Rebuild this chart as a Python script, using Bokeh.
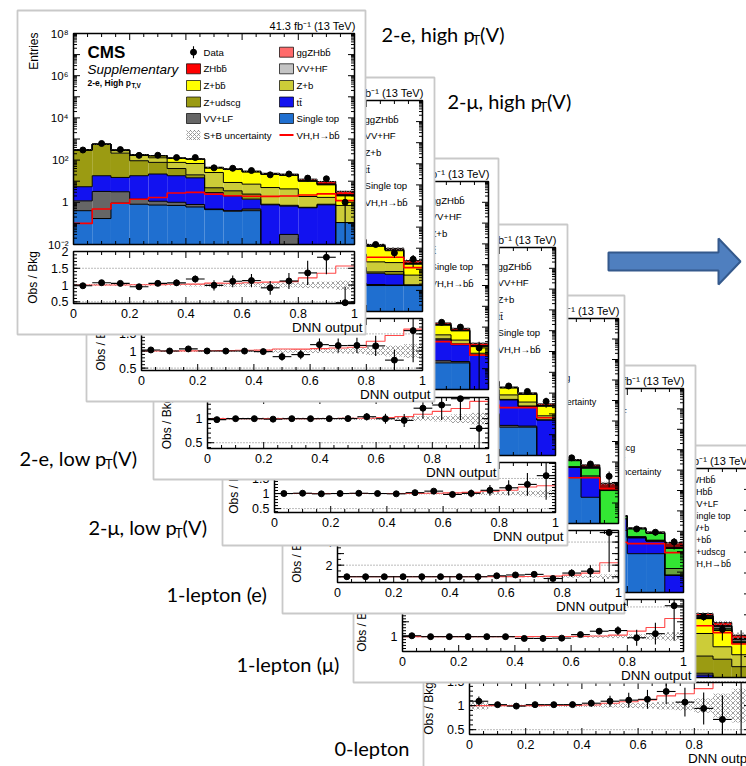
import math
import numpy as np
from bokeh.plotting import figure
from bokeh.models import Range1d
from bokeh.core.properties import value
from bokeh.embed import file_html
from bokeh.resources import INLINE

# ---------------------------------------------------------------------------
# Binning of the DNN output (15 equal bins between 0 and 1)
# ---------------------------------------------------------------------------
N_BINS = 15
BIN_EDGES = np.linspace(0.0, 1.0, N_BINS + 1)

# ---------------------------------------------------------------------------
# 2-e, high pT(V)
# ---------------------------------------------------------------------------
E2H_DATA = [301, 612, 315, 168, 170, 132, 132, 43, 41, 32, 20, 22, 14, 13, 1]
E2H_SINGLE_TOP = [0.40, 0.17, 0.91, 0.81, 0.74, 0.71, 0.60, 0.45, 0.38, 0.40, 0, 0, 0, 0, 0.11]
E2H_VV_LF = [0.77, 3.1, 2.25, 0.60, 0.38, 0.29, 0.19, 0.03, 0.02, 0.08, 0, 0.03, 0, 0, 0]
E2H_TTBAR = [4.3, 14.9, 11.9, 16.8, 20.8, 17.2, 13.7, 2.4, 1.6, 0.93, 0.76, 0.63, 0.55, 0.76, 0]
E2H_Z_UDSCG = [290, 532, 199, 75, 56, 21.6, 5.5, 2.0, 1.5, 1.04, 0.05, 0.06, 0.03, 0.05, 0]
E2H_Z_B = [7, 12, 68, 73, 51, 38, 49, 21, 5.2, 4.8, 4.2, 3.6, 1.3, 0.9, 0.6]
E2H_Z_BB = [3, 6, 13, 8, 29, 43, 41, 16, 27, 20, 16, 14.5, 8.0, 5.0, 1.3]
E2H_VV_HF = [2, 4, 5, 3, 4, 3, 2, 1.5, 1.2, 1.0, 0.8, 0.8, 0.4, 0.4, 0.1]
E2H_GGZH = [0.01, 0.03, 0.05, 0.08, 0.1, 0.15, 0.15, 0.15, 0.15, 0.15, 0.2, 0.2, 0.3, 0.3, 0.2]
E2H_ZH = [0.1, 0.45, 0.85, 1.3, 1.6, 2.6, 2.8, 2.3, 1.9, 1.8, 1.7, 1.8, 1.9, 2.2, 1.0]
E2H_VH = [0.1, 0.48, 0.9, 1.4, 1.7, 2.75, 2.95, 2.45, 2.05, 1.95, 1.9, 2.0, 2.2, 2.5, 1.2]
E2H_UNC = [0.03, 0.03, 0.03, 0.03, 0.03, 0.03, 0.04, 0.05, 0.05, 0.06, 0.07, 0.07, 0.09, 0.10, 0.14]

# ---------------------------------------------------------------------------
# 2-mu, high pT(V)
# ---------------------------------------------------------------------------
M2H_DATA = [415, 741, 414, 229, 207, 160, 141, 47, 43, 43, 32, 27, 15, 6, 3]
M2H_SINGLE_TOP = [0.5, 0.3, 1.1, 1.0, 0.9, 0.9, 0.7, 0.6, 0.5, 0.4, 0.3, 0.2, 0.17, 0.17, 0.17]
M2H_VV_LF = [1.0, 3.5, 2.6, 0.8, 0.5, 0.4, 0.3, 0.1, 0.05, 0.05, 0.03, 0.02, 0.02, 0.01, 0]
M2H_TTBAR = [5.5, 18, 15, 20, 25, 21, 16, 3.0, 2.0, 1.2, 0.9, 0.7, 0.46, 0.4, 0.01]
M2H_Z_UDSCG = [380, 690, 260, 98, 72, 28, 7, 2.6, 1.9, 1.3, 0.4, 0.3, 0.1, 0.2, 0]
M2H_Z_B = [9, 16, 88, 95, 66, 50, 64, 27, 7, 6, 5, 4, 1.5, 1.3, 0.35]
M2H_Z_BB = [4, 8, 17, 10, 38, 56, 53, 21, 35, 26, 20, 17, 10, 5.5, 1.2]
M2H_VV_HF = [2.6, 5, 6.5, 4, 5, 4, 2.6, 2, 1.6, 1.3, 1, 1, 0.8, 0.6, 0.15]
M2H_GGZH = [0.01, 0.04, 0.06, 0.1, 0.13, 0.2, 0.2, 0.2, 0.2, 0.2, 0.25, 0.25, 0.3, 0.3, 0.1]
M2H_ZH = [0.13, 0.6, 1.1, 1.7, 2.1, 3.4, 3.6, 3.0, 2.5, 2.3, 2.2, 2.3, 1.7, 1.3, 0.6]
M2H_VH = [0.14, 0.64, 1.16, 1.8, 2.2, 3.6, 3.8, 3.2, 2.7, 2.5, 2.45, 2.55, 3.7, 3.7, 1.2]
M2H_UNC = [0.03, 0.03, 0.03, 0.03, 0.03, 0.03, 0.04, 0.05, 0.05, 0.06, 0.07, 0.08, 0.12, 0.16, 0.2]

# ---------------------------------------------------------------------------
# 2-e, low pT(V)
# ---------------------------------------------------------------------------
E2L_DATA = [10020, 8635, 5442, 3290, 1926, 1084, 599, 326, 185, 95, 51, 33, 17, 10, 1]
E2L_SINGLE_TOP = [20, 25, 22, 18, 15, 12, 9, 6, 4, 2.5, 1.5, 0.8, 0.19, 0.19, 0.003]
E2L_VV_LF = [15, 20, 15, 10, 6, 4, 2.5, 1.5, 0.8, 0.4, 0.2, 0.1, 0.05, 0.03, 0]
E2L_TTBAR = [300, 420, 380, 300, 220, 150, 90, 50, 28, 15, 8, 4, 2.2, 1.2, 0.45]
E2L_Z_UDSCG = [9000, 7000, 4000, 2200, 1100, 500, 220, 90, 35, 12, 4, 1.2, 0.3, 0.15, 0]
E2L_Z_B = [700, 900, 750, 550, 380, 250, 150, 85, 45, 22, 11, 4.5, 1.5, 0.8, 0.1]
E2L_Z_BB = [150, 220, 230, 210, 180, 150, 115, 85, 60, 40, 26, 15, 8, 4.2, 0.6]
E2L_VV_HF = [40, 50, 45, 35, 25, 18, 12, 8, 5, 3.2, 2.2, 1.5, 1.0, 0.5, 0.1]
E2L_GGZH = [0.02, 0.03, 0.04, 0.05, 0.05, 0.05, 0.05, 0.05, 0.05, 0.05, 0.05, 0.05, 0.05, 0.04, 0.02]
E2L_ZH = [0.5, 0.8, 1.0, 1.2, 1.3, 1.4, 1.5, 1.6, 1.7, 1.9, 2.1, 2.3, 2.5, 1.6, 0.4]
E2L_VH = [0.5, 0.8, 1.0, 1.2, 1.4, 1.5, 1.6, 1.7, 1.8, 2.0, 2.2, 2.5, 2.0, 1.5, 0.45]
E2L_UNC = [0.02, 0.02, 0.02, 0.02, 0.02, 0.02, 0.02, 0.03, 0.03, 0.03, 0.04, 0.05, 0.06, 0.09, 0.12]

# ---------------------------------------------------------------------------
# 2-mu, low pT(V)
# ---------------------------------------------------------------------------
M2L_DATA = [12480, 10580, 6460, 3946, 2300, 1301, 711, 400, 232, 111, 64, 38, 22, 12, 4]
M2L_SINGLE_TOP = [25, 30, 27, 22, 18, 14, 10, 7, 5, 3, 1.8, 0.9, 0.23, 0.23, 0]
M2L_VV_LF = [18, 24, 18, 12, 7, 5, 3, 1.8, 1.0, 0.5, 0.25, 0.12, 0.05, 0.03, 0]
M2L_TTBAR = [360, 500, 450, 360, 260, 180, 110, 60, 34, 18, 10, 6, 4.4, 2.0, 0.51]
M2L_Z_UDSCG = [11000, 8500, 4800, 2600, 1300, 600, 260, 110, 42, 14, 5, 1.5, 0.3, 0.15, 0]
M2L_Z_B = [850, 1100, 900, 660, 450, 300, 180, 100, 55, 27, 13, 6, 3.2, 1.3, 0.3]
M2L_Z_BB = [180, 260, 280, 250, 215, 180, 140, 100, 72, 48, 31, 18, 9.3, 5.0, 1.5]
M2L_VV_HF = [48, 60, 54, 42, 30, 22, 15, 10, 6, 4, 2.6, 1.8, 1.0, 0.5, 0.2]
M2L_GGZH = [0.02, 0.03, 0.05, 0.06, 0.06, 0.06, 0.06, 0.06, 0.06, 0.06, 0.06, 0.06, 0.06, 0.05, 0.02]
M2L_ZH = [0.6, 0.9, 1.2, 1.4, 1.5, 1.6, 1.8, 1.9, 2.0, 2.2, 2.4, 2.6, 1.1, 1.0, 0.5]
M2L_VH = [0.6, 0.9, 1.2, 1.4, 1.5, 1.7, 1.9, 2.0, 2.1, 2.3, 2.5, 2.7, 2.0, 2.0, 0.65]
M2L_UNC = [0.02, 0.02, 0.02, 0.02, 0.02, 0.02, 0.02, 0.03, 0.03, 0.03, 0.04, 0.05, 0.06, 0.09, 0.12]

# ---------------------------------------------------------------------------
# 1-lepton (e)
# ---------------------------------------------------------------------------
E1L_DATA = [6400, 8740, 7560, 5740, 3970, 2560, 1570, 882, 521, 288, 139, 39, 16, 8, 2]
E1L_SINGLE_TOP = [400, 700, 800, 700, 550, 400, 270, 170, 100, 55, 25, 9, 1.75, 0.19, 0]
E1L_TTBAR = [3000, 5200, 5000, 4000, 2800, 1800, 1100, 600, 320, 160, 70, 25, 3.65, 1.55, 0.005]
E1L_VV_LF = [30, 40, 30, 20, 12, 7, 4, 2, 1, 0.5, 0.2, 0.1, 0.05, 0.02, 0]
E1L_W_UDSCG = [2500, 2200, 1200, 600, 300, 140, 60, 25, 10, 4, 1.5, 0.5, 0.1, 0.05, 0]
E1L_W_B = [300, 350, 280, 200, 130, 80, 45, 25, 13, 6, 3, 1.3, 0.4, 0.3, 0]
E1L_W_BB = [150, 220, 230, 200, 160, 120, 85, 55, 35, 22, 14, 9, 5.6, 2.8, 0.4]
E1L_VV_HF = [20, 28, 25, 20, 15, 11, 8, 5, 3.5, 2.5, 1.8, 1.2, 0.6, 0.5, 0.01]
E1L_ZH = [0.1, 0.2, 0.3, 0.3, 0.3, 0.3, 0.3, 0.3, 0.3, 0.3, 0.3, 0.3, 0.2, 0.5, 0.05]
E1L_WH = [0.5, 1.0, 1.5, 1.8, 2.0, 2.2, 2.3, 2.3, 2.3, 2.3, 2.2, 2.1, 0.6, 1.3, 0.45]
E1L_VH = [0.6, 1.2, 1.8, 2.1, 2.3, 2.5, 2.6, 2.6, 2.6, 2.6, 2.5, 2.4, 1.7, 1.7, 0.5]
E1L_UNC = [0.02, 0.02, 0.02, 0.02, 0.02, 0.02, 0.02, 0.02, 0.03, 0.04, 0.05, 0.06, 0.08, 0.1, 0.2]

# ---------------------------------------------------------------------------
# 1-lepton (mu)
# ---------------------------------------------------------------------------
M1L_DATA = [7910, 10400, 9046, 6888, 4802, 3111, 1750, 991, 546, 317, 165, 67, 13, 9, 3]
M1L_SINGLE_TOP = [480, 840, 960, 840, 660, 480, 320, 200, 120, 65, 30, 11, 0.8, 0.8, 0]
M1L_TTBAR = [3600, 6200, 6000, 4800, 3400, 2200, 1300, 720, 380, 190, 85, 30, 4.0, 2.5, 0.07]
M1L_VV_LF = [36, 48, 36, 24, 14, 8, 5, 2.4, 1.2, 0.6, 0.25, 0.12, 0.05, 0.03, 0]
M1L_W_UDSCG = [3000, 2600, 1400, 720, 360, 170, 72, 30, 12, 5, 1.8, 0.6, 0.15, 0.05, 0]
M1L_W_B = [360, 420, 340, 240, 160, 95, 55, 30, 16, 7, 3.5, 1.5, 0.5, 0.3, 0.08]
M1L_W_BB = [180, 260, 280, 240, 190, 145, 100, 66, 42, 26, 17, 11, 7.5, 4.2, 1.3]
M1L_VV_HF = [24, 34, 30, 24, 18, 13, 10, 6, 4, 3, 2, 1.4, 0.5, 0.3, 0.02]
M1L_ZH = [0.1, 0.2, 0.3, 0.35, 0.35, 0.35, 0.35, 0.35, 0.35, 0.35, 0.35, 0.35, 0.2, 0.2, 0.15]
M1L_WH = [0.6, 1.2, 1.8, 2.1, 2.4, 2.6, 2.7, 2.7, 2.7, 2.7, 2.6, 2.5, 1.2, 1.0, 1.2]
M1L_VH = [0.7, 1.4, 2.1, 2.5, 2.8, 3.0, 3.1, 3.1, 3.1, 3.1, 3.0, 2.9, 2.5, 2.5, 0.9]
M1L_UNC = [0.02, 0.02, 0.02, 0.02, 0.02, 0.02, 0.02, 0.02, 0.02, 0.03, 0.04, 0.05, 0.08, 0.1, 0.15]

# ---------------------------------------------------------------------------
# 0-lepton
# ---------------------------------------------------------------------------
Z0L_DATA = [130, 7046, 4737, 2992, 1752, 545, 221, 92, 53, 33, 25, 13, 8, 2, 0]
Z0L_SINGLE_TOP = [1, 90, 80, 60, 40, 15, 6, 1.5, 0.8, 0.4, 0.15, 0.05, 0.005, 0.003, 0.001]
Z0L_TTBAR = [15, 1300, 1200, 900, 600, 200, 70, 20, 9, 4, 1.5, 0.5, 0.008, 0.005, 0.002]
Z0L_VV_LF = [0.7, 50, 40, 28, 18, 6, 2.5, 0.8, 0.4, 0.2, 0.08, 0.03, 0.003, 0.002, 0]
Z0L_Z_UDSCG = [60, 3000, 1800, 900, 420, 90, 25, 8, 3, 1.2, 0.5, 0.2, 0.09, 0.065, 0.03]
Z0L_Z_B = [9, 600, 450, 300, 180, 55, 22, 10, 5, 3, 2, 1.4, 1.17, 0.22, 0.09]
Z0L_Z_BB = [2.6, 220, 220, 190, 150, 75, 45, 25, 18, 13, 10, 7, 5.3, 1.5, 0.33]
Z0L_W_UDSCG = [26, 1300, 700, 340, 160, 35, 10, 3, 1.2, 0.5, 0.2, 0.05, 0.02, 0.01, 0]
Z0L_W_B = [3.5, 230, 180, 120, 75, 25, 10, 5, 3, 1.8, 1.2, 0.8, 0.5, 0.3, 0.05]
Z0L_W_BB = [1, 90, 90, 75, 60, 25, 15, 8, 5, 3.5, 2.5, 1.2, 0.4, 0.2, 0.05]
Z0L_VV_HF = [0.35, 28, 25, 20, 15, 8, 5, 3, 2.2, 1.6, 1.2, 0.9, 1.0, 0.5, 0.1]
Z0L_GGZH = [0.01, 0.08, 0.1, 0.12, 0.13, 0.15, 0.2, 0.3, 0.3, 0.3, 0.3, 0.3, 0.3, 0.1, 0.05]
Z0L_WH = [0.02, 0.2, 0.3, 0.35, 0.4, 0.45, 0.6, 0.9, 0.8, 0.7, 0.8, 0.6, 0.3, 0.1, 0.03]
Z0L_ZH = [0.05, 0.5, 0.7, 0.8, 1.0, 1.2, 1.7, 3.0, 2.7, 2.5, 2.8, 2.1, 2.4, 1.2, 0.32]
Z0L_VH = [0.08, 0.8, 1.1, 1.3, 1.5, 1.8, 2.5, 4.2, 3.8, 3.5, 3.9, 3.0, 3.0, 1.4, 0.4]
Z0L_UNC = [0.08, 0.02, 0.02, 0.02, 0.02, 0.03, 0.03, 0.04, 0.05, 0.06, 0.08, 0.1, 0.15, 0.25, 0.35]

# ---------------------------------------------------------------------------
# Labels, colours, stacking order
# ---------------------------------------------------------------------------
BB = "b\u0304"
VH_LABEL = "VH,H\u2192b" + BB
UNC_LABEL = "S+B uncertainty"
LUMI_LABEL = "41.3 fb\u207b\u00b9 (13 TeV)"
X_TICK_VALUES = [0.0, 0.2, 0.4, 0.6, 0.8, 1.0]
X_TICK_LABELS = ["0", "0.2", "0.4", "0.6", "0.8", "1"]
DECADES = [-2, 0, 2, 4, 6, 8]
DECADE_LABELS = ["10\u207b\u00b2", "1", "10\u00b2", "10\u2074", "10\u2076", "10\u2078"]

PROCESSES = {
    "st": ("Single top", "#1f6fd0"),
    "tt": ("t" + "t\u0304", "#1212f0"),
    "vvlf": ("VV+LF", "#666666"),
    "vvhf": ("VV+HF", "#c4c4c4"),
    "zud": ("Z+udscg", "#9b9b12"),
    "zb": ("Z+b", "#cccc38"),
    "zbb": ("Z+b" + BB, "#ffff00"),
    "wud": ("W+udscg", "#2f7d2f"),
    "wb": ("W+b", "#66a33d"),
    "wbb": ("W+b" + BB, "#33e633"),
    "ggzh": ("ggZHb" + BB, "#ff6a6a"),
    "zh": ("ZHb" + BB, "#ff0000"),
    "wh": ("WHb" + BB, "#8e0b0b"),
}
SIGNAL_KEYS = {"zh", "ggzh", "wh"}
ORDER_2L = ["st", "vvlf", "tt", "zud", "zb", "zbb", "vvhf", "ggzh", "zh"]
ORDER_1L = ["st", "tt", "vvlf", "wud", "wb", "wbb", "vvhf", "zh", "wh"]
ORDER_0L = ["st", "tt", "vvlf", "zud", "zb", "zbb", "wud", "wb", "wbb", "vvhf", "ggzh", "wh", "zh"]

LEG_2L = [
    [("data", "Data"), ("zh", None), ("zbb", None), ("zud", None), ("vvlf", None), ("unc", UNC_LABEL)],
    [("ggzh", None), ("vvhf", None), ("zb", None), ("tt", None), ("st", None), ("vh", VH_LABEL)],
]
LEG_1L = [
    [("data", "Data"), ("wh", None), ("zh", None), ("wbb", None), ("st", None), ("vh", VH_LABEL)],
    [None, ("vvhf", None), ("wb", None), ("tt", None), ("wud", None), ("vvlf", None), ("unc", UNC_LABEL)],
]
LEG_0L = [
    [("data", "Data"), ("ggzh", None), ("vvhf", None), ("tt", None), ("wud", None), ("wbb", None),
     ("zb", None), ("unc", UNC_LABEL)],
    [("wh", None), ("zh", None), ("vvlf", None), ("st", None), ("wb", None), ("zbb", None),
     ("zud", None), ("vh", VH_LABEL)],
]
STYLE_2L = dict(rows=[18.7, 35.3, 52.0, 68.5, 85.0, 101.5], cols=[(113, 130), (206, 223)],
                bw=14, bh=10, fs=9.6, cms=(19, 36, 49))
STYLE_SMALL_1L = dict(rows=[11 + 12 * i for i in range(8)], cols=[(104, 119), (180, 195)],
                      bw=12, bh=8, fs=9.0, cms=(17, 33, 45))
STYLE_SMALL_0L = dict(rows=[11 + 12 * i for i in range(8)], cols=[(108, 123), (205, 221)],
                      bw=12, bh=8, fs=9.0, cms=(17, 33, 45))


def yields_2l(st, vvlf, tt, zud, zb, zbb, vvhf, ggzh, zh):
    return dict(st=st, vvlf=vvlf, tt=tt, zud=zud, zb=zb, zbb=zbb, vvhf=vvhf, ggzh=ggzh, zh=zh)


def yields_1l(st, tt, vvlf, wud, wb, wbb, vvhf, zh, wh):
    return dict(st=st, tt=tt, vvlf=vvlf, wud=wud, wb=wb, wbb=wbb, vvhf=vvhf, zh=zh, wh=wh)


PANELS = [
    dict(box=(17, 10, 365, 334), fx=(73, 354), uy=(33, 244), ry=(251, 303), rrange=(0.45, 2.0),
         rstep=0.5, rminor=0.1, rlabels=[0.5, 1, 1.5, 2], rdots=[0.5, 1.5],
         order=ORDER_2L, legend=LEG_2L, lstyle=STYLE_2L, tag=("2-e, High p", "T,V", 43.5),
         yields=yields_2l(E2H_SINGLE_TOP, E2H_VV_LF, E2H_TTBAR, E2H_Z_UDSCG, E2H_Z_B, E2H_Z_BB,
                          E2H_VV_HF, E2H_GGZH, E2H_ZH),
         data=E2H_DATA, vh=E2H_VH, unc=E2H_UNC),
    dict(box=(86, 77, 434, 401), fx=(141, 422), uy=(100, 311), ry=(318, 370), rrange=(0.43, 1.95),
         rstep=0.5, rminor=0.1, rlabels=[0.5, 1, 1.5], rdots=[0.5, 1.5],
         order=ORDER_2L, legend=LEG_2L, lstyle=STYLE_2L, tag=("2-\u03bc, High p", "T,V", 43.9),
         yields=yields_2l(M2H_SINGLE_TOP, M2H_VV_LF, M2H_TTBAR, M2H_Z_UDSCG, M2H_Z_B, M2H_Z_BB,
                          M2H_VV_HF, M2H_GGZH, M2H_ZH),
         data=M2H_DATA, vh=M2H_VH, unc=M2H_UNC),
    dict(box=(153, 158, 498, 479), fx=(207, 488), uy=(181, 389), ry=(397, 448), rrange=(0.38, 1.44),
         rstep=0.5, rminor=0.1, rlabels=[0.5, 1], rdots=[0.5],
         order=ORDER_2L, legend=LEG_2L, lstyle=STYLE_2L, tag=("2-e, Low p", "T,V", 41.6),
         yields=yields_2l(E2L_SINGLE_TOP, E2L_VV_LF, E2L_TTBAR, E2L_Z_UDSCG, E2L_Z_B, E2L_Z_BB,
                          E2L_VV_HF, E2L_GGZH, E2L_ZH),
         data=E2L_DATA, vh=E2L_VH, unc=E2L_UNC),
    dict(box=(222, 224, 567, 545), fx=(274, 555), uy=(247, 455), ry=(462, 512), rrange=(0.37, 2.03),
         rstep=0.5, rminor=0.1, rlabels=[0.5, 1, 1.5, 2], rdots=[0.5, 1.5],
         order=ORDER_2L, legend=LEG_2L, lstyle=STYLE_2L, tag=("2-\u03bc, Low p", "T,V", 42.0),
         yields=yields_2l(M2L_SINGLE_TOP, M2L_VV_LF, M2L_TTBAR, M2L_Z_UDSCG, M2L_Z_B, M2L_Z_BB,
                          M2L_VV_HF, M2L_GGZH, M2L_ZH),
         data=M2L_DATA, vh=M2L_VH, unc=M2L_UNC),
    dict(box=(282, 295, 624, 613), fx=(337, 618), uy=(318, 523), ry=(530, 582), rrange=(0.5, 5.0),
         rstep=1.0, rminor=0.5, rlabels=[2, 4], rdots=[2, 4],
         order=ORDER_1L, legend=LEG_1L, lstyle=STYLE_SMALL_1L, tag=("1-e", "", 0),
         yields=yields_1l(E1L_SINGLE_TOP, E1L_TTBAR, E1L_VV_LF, E1L_W_UDSCG, E1L_W_B, E1L_W_BB,
                          E1L_VV_HF, E1L_ZH, E1L_WH),
         data=E1L_DATA, vh=E1L_VH, unc=E1L_UNC),
    dict(box=(353, 365, 695, 682), fx=(402, 683), uy=(388, 592), ry=(599, 651), rrange=(0.5, 2.25),
         rstep=0.5, rminor=0.1, rlabels=[1, 2], rdots=[2],
         order=ORDER_1L, legend=LEG_1L, lstyle=STYLE_SMALL_1L, tag=("1-\u03bc", "", 0),
         yields=yields_1l(M1L_SINGLE_TOP, M1L_TTBAR, M1L_VV_LF, M1L_W_UDSCG, M1L_W_B, M1L_W_BB,
                          M1L_VV_HF, M1L_ZH, M1L_WH),
         data=M1L_DATA, vh=M1L_VH, unc=M1L_UNC),
    dict(box=(423, 445, 775, 770), fx=(469, 750), uy=(468, 677), ry=(682, 734), rrange=(0.4, 1.48),
         rstep=0.5, rminor=0.1, rlabels=[0.5, 1, 1.5], rdots=[0.5, 1.5],
         order=ORDER_0L, legend=LEG_0L, lstyle=STYLE_SMALL_0L, tag=("0-lepton", "", 0),
         yields=dict(st=Z0L_SINGLE_TOP, tt=Z0L_TTBAR, vvlf=Z0L_VV_LF, zud=Z0L_Z_UDSCG, zb=Z0L_Z_B,
                     zbb=Z0L_Z_BB, wud=Z0L_W_UDSCG, wb=Z0L_W_B, wbb=Z0L_W_BB, vvhf=Z0L_VV_HF,
                     ggzh=Z0L_GGZH, wh=Z0L_WH, zh=Z0L_ZH),
         data=Z0L_DATA, vh=Z0L_VH, unc=Z0L_UNC),
]

# Category captions placed beside the stacked sheets: x, y, text, subscript, suffix, width of text
SLIDE_LABELS = [
    (381, 33, "2-e, high p", "T", "(V)", 90.5),
    (447, 100, "2-\u03bc, high p", "T", "(V)", 91.4),
    (19, 457, "2-e, low p", "T", "(V)", 85.0),
    (88, 526, "2-\u03bc, low p", "T", "(V)", 86.0),
    (166, 593, "1-lepton (e)", "", "", 0),
    (236, 663, "1-lepton (\u03bc)", "", "", 0),
    (334, 747, "0-lepton", "", "", 0),
]
ARROW_X = [608, 718, 718, 740, 718, 718, 608]
ARROW_Y = [252, 252, 238, 261, 284, 270, 270]

SANS = "Liberation Sans"
SLIDE_FONT = "Lato"
LOG_MIN, LOG_MAX = -2.0, 8.0
HATCH = "#7a7a7a"
SHEET_EDGE = "#c9c9c9"

W, H = 746, 766
p = figure(width=W, height=H, output_backend="svg", toolbar_location=None,
           x_range=Range1d(0, W), y_range=Range1d(H, 0),
           x_axis_location=None, y_axis_location=None, min_border=0,
           background_fill_color="white", border_fill_color="white")
p.outline_line_color = None
for r in list(p.center):
    r.visible = False


class Texts:
    """Collects text items with equal styling so each style is drawn by one glyph."""

    def __init__(self):
        self.groups = {}

    def add(self, x, y, s, size, align="left", baseline="middle", style="normal",
            font=SANS, angle=0.0, color="black"):
        key = (size, align, baseline, style, font, angle, color)
        g = self.groups.setdefault(key, dict(x=[], y=[], text=[]))
        g["x"].append(x)
        g["y"].append(y)
        g["text"].append(s)

    def flush(self, target):
        for (size, align, baseline, style, font, angle, color), g in self.groups.items():
            target.text(x=g["x"], y=g["y"], text=g["text"], text_font=value(font),
                        text_font_size=value(f"{size}px"), text_align=align,
                        text_baseline=baseline, text_font_style=style, angle=angle,
                        text_color=color)
        self.groups = {}


def clog(v):
    v = np.asarray(v, dtype=float)
    safe = np.where(v > 0, v, 10.0 ** (LOG_MIN - 3))
    return np.clip(np.log10(safe), LOG_MIN, LOG_MAX)


def step_xy(vals):
    return np.repeat(BIN_EDGES, 2)[1:-1], np.repeat(np.asarray(vals, dtype=float), 2)


def ticks_in(lo, hi, step):
    start = math.ceil(lo / step - 1e-9) * step
    return [v for v in np.arange(start, hi + 1e-9, step) if lo + 1e-9 < v < hi - 1e-9]


def frame_ticks(sub, ya, yb, wpx, hpx, xmaj, xmin_, ymaj, ymin_):
    x0s, y0s, x1s, y1s = [], [], [], []
    for vals, length in ((xmaj, 6.5), (xmin_, 3.5)):
        dy = length * (yb - ya) / hpx
        for v in vals:
            x0s += [v, v]
            x1s += [v, v]
            y0s += [ya, yb]
            y1s += [ya + dy, yb - dy]
    for vals, length in ((ymaj, 6.5), (ymin_, 3.5)):
        dx = length / wpx
        for v in vals:
            x0s += [0.0, 1.0]
            x1s += [dx, 1.0 - dx]
            y0s += [v, v]
            y1s += [v, v]
    sub.segment(x0=x0s, y0=y0s, x1=x1s, y1=y1s, line_color="black", line_width=1)


X_MAJOR = [0.2, 0.4, 0.6, 0.8]
X_MINOR = [round(0.05 * k, 2) for k in range(1, 20) if k % 4 != 0]
Y_MAJOR_LOG = list(range(-1, 8))
Y_MINOR_LOG = [n + math.log10(k) for n in range(-2, 8) for k in range(2, 10)]


def draw_panel(P):
    l, t, r, b = P["box"]
    fx0, fx1 = P["fx"]
    uy0, uy1 = P["uy"]
    ry0, ry1 = P["ry"]
    rmin, rmax = P["rrange"]
    wpx = fx1 - fx0
    texts = Texts()

    # sheet of paper
    p.quad(left=[l], right=[r], top=[t], bottom=[b], fill_color="white",
           line_color=SHEET_EDGE, line_width=1.8)

    up = p.subplot(x_source=Range1d(0, 1), y_source=Range1d(LOG_MIN, LOG_MAX),
                   x_target=Range1d(fx0, fx1), y_target=Range1d(uy1, uy0))
    lo = p.subplot(x_source=Range1d(0, 1), y_source=Range1d(rmin, rmax),
                   x_target=Range1d(fx0, fx1), y_target=Range1d(ry1, ry0))

    left, right = BIN_EDGES[:-1], BIN_EDGES[1:]
    cent = 0.5 * (left + right)

    # ---- stacked histogram (log scale) ----
    cum = np.zeros(N_BINS)
    bkg = np.zeros(N_BINS)
    tops = []
    for key in P["order"]:
        v = np.asarray(P["yields"][key], dtype=float)
        if key not in SIGNAL_KEYS:
            bkg = bkg + v
        lb = clog(cum)
        cum = cum + v
        lt = clog(cum)
        m = lt > lb + 1e-9
        if m.any():
            up.quad(left=left[m], right=right[m], bottom=lb[m], top=lt[m],
                    fill_color=PROCESSES[key][1], line_color=None)
        tops.append(lt)
    for lt in tops:
        xs, ys = step_xy(lt)
        up.line(xs, ys, line_color="black", line_width=1.0)

    unc = np.asarray(P["unc"], dtype=float)
    up.quad(left=left, right=right, bottom=clog(cum * (1 - unc)), top=clog(cum * (1 + unc)),
            fill_color=None, line_color=None, hatch_pattern="diagonal_cross",
            hatch_color=HATCH, hatch_scale=5, hatch_weight=0.7)

    vh = np.asarray(P["vh"], dtype=float)
    xs, ys = step_xy(clog(vh))
    up.line(xs, ys, line_color="#ff0000", line_width=1.6)

    d = np.asarray(P["data"], dtype=float)
    err_dn = np.sqrt(d)
    err_up = np.where(d > 0, np.sqrt(d), 1.84)
    up.segment(x0=cent, x1=cent, y0=clog(d - err_dn), y1=clog(d + err_up),
               line_color="black", line_width=1.1)
    m = d > 0
    up.scatter(cent[m], clog(d[m]), size=6, fill_color="black", line_color="black")

    frame_ticks(up, LOG_MIN, LOG_MAX, wpx, uy1 - uy0, X_MAJOR, X_MINOR, Y_MAJOR_LOG, Y_MINOR_LOG)
    up.quad(left=[0], right=[1], bottom=[LOG_MIN], top=[LOG_MAX], fill_color=None,
            line_color="black", line_width=1.5)
    up.text(x=[0.0] * len(DECADES), y=DECADES, text=DECADE_LABELS, x_offset=-5,
            text_align="right", text_baseline="middle", text_font=value(SANS),
            text_font_size=value("11.5px"))

    # ---- ratio panel ----
    ratio = d / bkg
    r_dn = err_dn / bkg
    r_up = err_up / bkg
    lo.quad(left=left, right=right, bottom=np.clip(1 - unc, rmin, rmax),
            top=np.clip(1 + unc, rmin, rmax), fill_color=None, line_color=None,
            hatch_pattern="diagonal_cross", hatch_color=HATCH, hatch_scale=5, hatch_weight=0.7)
    dots = P["rdots"]
    lo.segment(x0=[0.0] * len(dots), x1=[1.0] * len(dots), y0=dots, y1=dots,
               line_color="#555555", line_width=0.8, line_dash="1 2")
    xs, ys = step_xy(np.clip(1 + vh / bkg, rmin, rmax))
    lo.line(xs, ys, line_color="#ff4a4a", line_width=1.1)
    lo.segment(x0=cent, x1=cent, y0=np.clip(ratio - r_dn, rmin, rmax),
               y1=np.clip(ratio + r_up, rmin, rmax), line_color="black", line_width=1.1)
    inr = (ratio >= rmin) & (ratio <= rmax)
    lo.segment(x0=left[inr], x1=right[inr], y0=ratio[inr], y1=ratio[inr],
               line_color="black", line_width=1.1)
    lo.scatter(cent[inr], ratio[inr], size=6, fill_color="black", line_color="black")

    frame_ticks(lo, rmin, rmax, wpx, ry1 - ry0, X_MAJOR, X_MINOR,
                ticks_in(rmin, rmax, P["rstep"]), ticks_in(rmin, rmax, P["rminor"]))
    lo.quad(left=[0], right=[1], bottom=[rmin], top=[rmax], fill_color=None,
            line_color="black", line_width=1.5)
    lo.text(x=X_TICK_VALUES, y=[rmin] * len(X_TICK_VALUES), text=X_TICK_LABELS, y_offset=10,
            text_align="center", text_baseline="middle", text_font=value(SANS),
            text_font_size=value("12.5px"))
    rl = P["rlabels"]
    lo.text(x=[0.0] * len(rl), y=rl, text=[f"{v:g}" for v in rl], x_offset=-5,
            text_align="right", text_baseline="middle", text_font=value(SANS),
            text_font_size=value("12.5px"))

    # ---- axis titles, lumi, CMS label ----
    texts.add(fx1 + 8, ry1 + 24, "DNN output", 13.5, align="right")
    texts.add(fx0 - 41, 0.5 * (ry0 + ry1), "Obs / Bkg", 12, align="center", angle=math.pi / 2)
    texts.add(fx0 - 40, uy0 - 1, "Entries", 12, align="right", angle=math.pi / 2)
    texts.add(fx1 + 1, uy0 - 8, LUMI_LABEL, 11, align="right")
    st = P["lstyle"]
    c1, c2, c3 = st["cms"]
    texts.add(fx0 + 14, uy0 + c1, "CMS", 17, style="bold")
    texts.add(fx0 + 14, uy0 + c2, "Supplementary", 13.5, style="italic")
    tag, sub, tagw = P["tag"]
    texts.add(fx0 + 14, uy0 + c3, tag, 8.5, style="bold")
    if sub:
        texts.add(fx0 + 14 + tagw + 0.5, uy0 + c3 + 3, sub, 6.5, style="bold")

    # ---- legend ----
    bw, bh, fs = st["bw"], st["bh"], st["fs"]
    box_l, box_r, box_t, box_b, box_c = [], [], [], [], []
    hatch_l, hatch_r, hatch_t, hatch_b = [], [], [], []
    for (boff, toff), entries in zip(st["cols"], P["legend"]):
        for row, entry in zip(st["rows"], entries):
            if entry is None:
                continue
            key, label = entry
            bx = fx0 + boff
            yy = uy0 + row
            if key == "data":
                p.segment(x0=[bx + bw / 2], x1=[bx + bw / 2], y0=[yy - bh / 2 - 1],
                          y1=[yy + bh / 2 + 1], line_color="black", line_width=1.1)
                p.scatter([bx + bw / 2], [yy], size=6, fill_color="black", line_color="black")
            elif key == "unc":
                hatch_l.append(bx)
                hatch_r.append(bx + bw)
                hatch_t.append(yy - bh / 2)
                hatch_b.append(yy + bh / 2)
            elif key == "vh":
                p.segment(x0=[bx], x1=[bx + bw], y0=[yy], y1=[yy], line_color="#ff0000",
                          line_width=2)
            else:
                box_l.append(bx)
                box_r.append(bx + bw)
                box_t.append(yy - bh / 2)
                box_b.append(yy + bh / 2)
                box_c.append(PROCESSES[key][1])
                label = PROCESSES[key][0]
            texts.add(fx0 + toff, yy, label, fs)
    if box_l:
        p.quad(left=box_l, right=box_r, top=box_t, bottom=box_b, fill_color=box_c,
               line_color="black", line_width=0.7)
    if hatch_l:
        p.quad(left=hatch_l, right=hatch_r, top=hatch_t, bottom=hatch_b, fill_color=None,
               line_color=None, hatch_pattern="diagonal_cross", hatch_color=HATCH,
               hatch_scale=4, hatch_weight=0.7)
    texts.flush(p)


# arrow and captions
p.patch(ARROW_X, ARROW_Y, fill_color="#4f7fbf", line_color="#34598c", line_width=2)
captions = Texts()
for x0, y0, main, sub, suffix, width in SLIDE_LABELS:
    captions.add(x0, y0, main, 20, font=SLIDE_FONT)
    if sub:
        captions.add(x0 + width + 0.5, y0 + 6, sub, 13, font=SLIDE_FONT)
        captions.add(x0 + width + 8.0, y0, suffix, 20, font=SLIDE_FONT)
captions.flush(p)

# sheets are stacked: the last one lies at the bottom of the pile
for panel in reversed(PANELS):
    draw_panel(panel)

open("out.html", "w").write(file_html(p, INLINE))
